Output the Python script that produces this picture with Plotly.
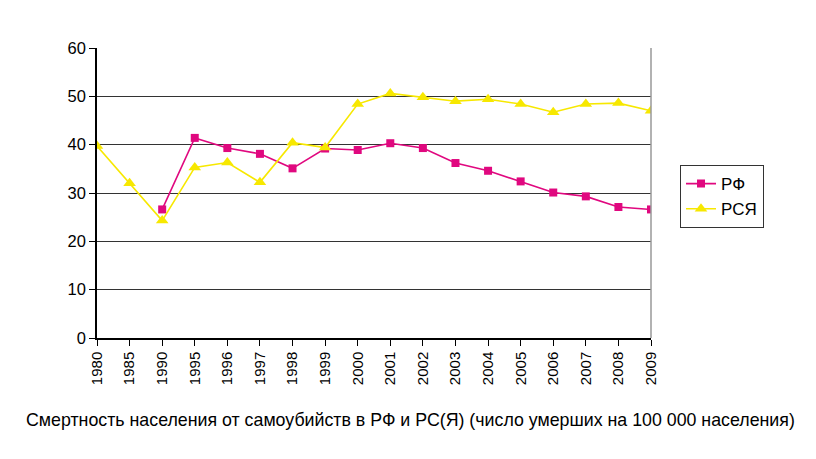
import plotly.graph_objects as go

years = ["1980", "1985", "1990", "1995", "1996", "1997", "1998", "1999", "2000",
         "2001", "2002", "2003", "2004", "2005", "2006", "2007", "2008", "2009"]
rf = [None, None, 26.6, 41.4, 39.3, 38.1, 35.1, 39.2, 38.9, 40.3, 39.3, 36.2, 34.6, 32.4, 30.1, 29.3, 27.1, 26.6]
rsya = [39.7, 32.0, 24.3, 35.3, 36.3, 32.2, 40.4, 39.4, 48.4, 50.6, 49.8, 49.0, 49.4, 48.4, 46.7, 48.4, 48.6, 47.0]
y_ticks = [0, 10, 20, 30, 40, 50, 60]

MAG = "#E0087F"
YEL = "#F7E800"

fig = go.Figure()
fig.add_trace(go.Scatter(x=years, y=rf, name="РФ", mode="lines+markers",
                         line=dict(color=MAG, width=1.6),
                         marker=dict(symbol="square", size=8, color=MAG),
                         connectgaps=False))
fig.add_trace(go.Scatter(x=years, y=rsya, name="РСЯ", mode="lines+markers",
                         line=dict(color=YEL, width=1.6),
                         marker=dict(symbol="triangle-up", size=11, color=YEL)))

fig.update_layout(
    width=816, height=459,
    margin=dict(l=89, r=173, t=40, b=129),
    paper_bgcolor="white", plot_bgcolor="white",
    font=dict(family="Liberation Sans, Arial, sans-serif", size=14, color="black"),
    xaxis=dict(type="category", range=[0, 17], showgrid=False,
               showline=True, linecolor="black", linewidth=1.5,
               ticks="outside", ticklen=6, tickcolor="black", tickwidth=1.2,
               tickangle=-90, tickfont=dict(size=15)),
    yaxis=dict(range=[0, 60], tickvals=y_ticks, showgrid=True,
               gridcolor="#333333", gridwidth=1.3, zeroline=False,
               showline=True, linecolor="black", linewidth=1.5,
               ticks="outside", ticklen=6, tickcolor="black", tickwidth=1.2,
               tickfont=dict(size=16.5)),
    legend=dict(x=1.052, y=0.597, xanchor="left", yanchor="top",
                bordercolor="#333333", borderwidth=1.2, bgcolor="white",
                font=dict(size=17), tracegroupgap=0, itemwidth=30),
    showlegend=True,
)
fig.add_shape(type="line", xref="paper", yref="paper", x0=1, x1=1, y0=0, y1=1,
              line=dict(color="#999999", width=1.5))
fig.add_annotation(text="Смертность населения от самоубийств в РФ и РС(Я) (число умерших на 100 000 населения)",
                   xref="paper", yref="paper", x=0.565, y=-0.283, showarrow=False,
                   xanchor="center", yanchor="middle", font=dict(size=17.8, color="black"))

fig.write_html("out.html")
